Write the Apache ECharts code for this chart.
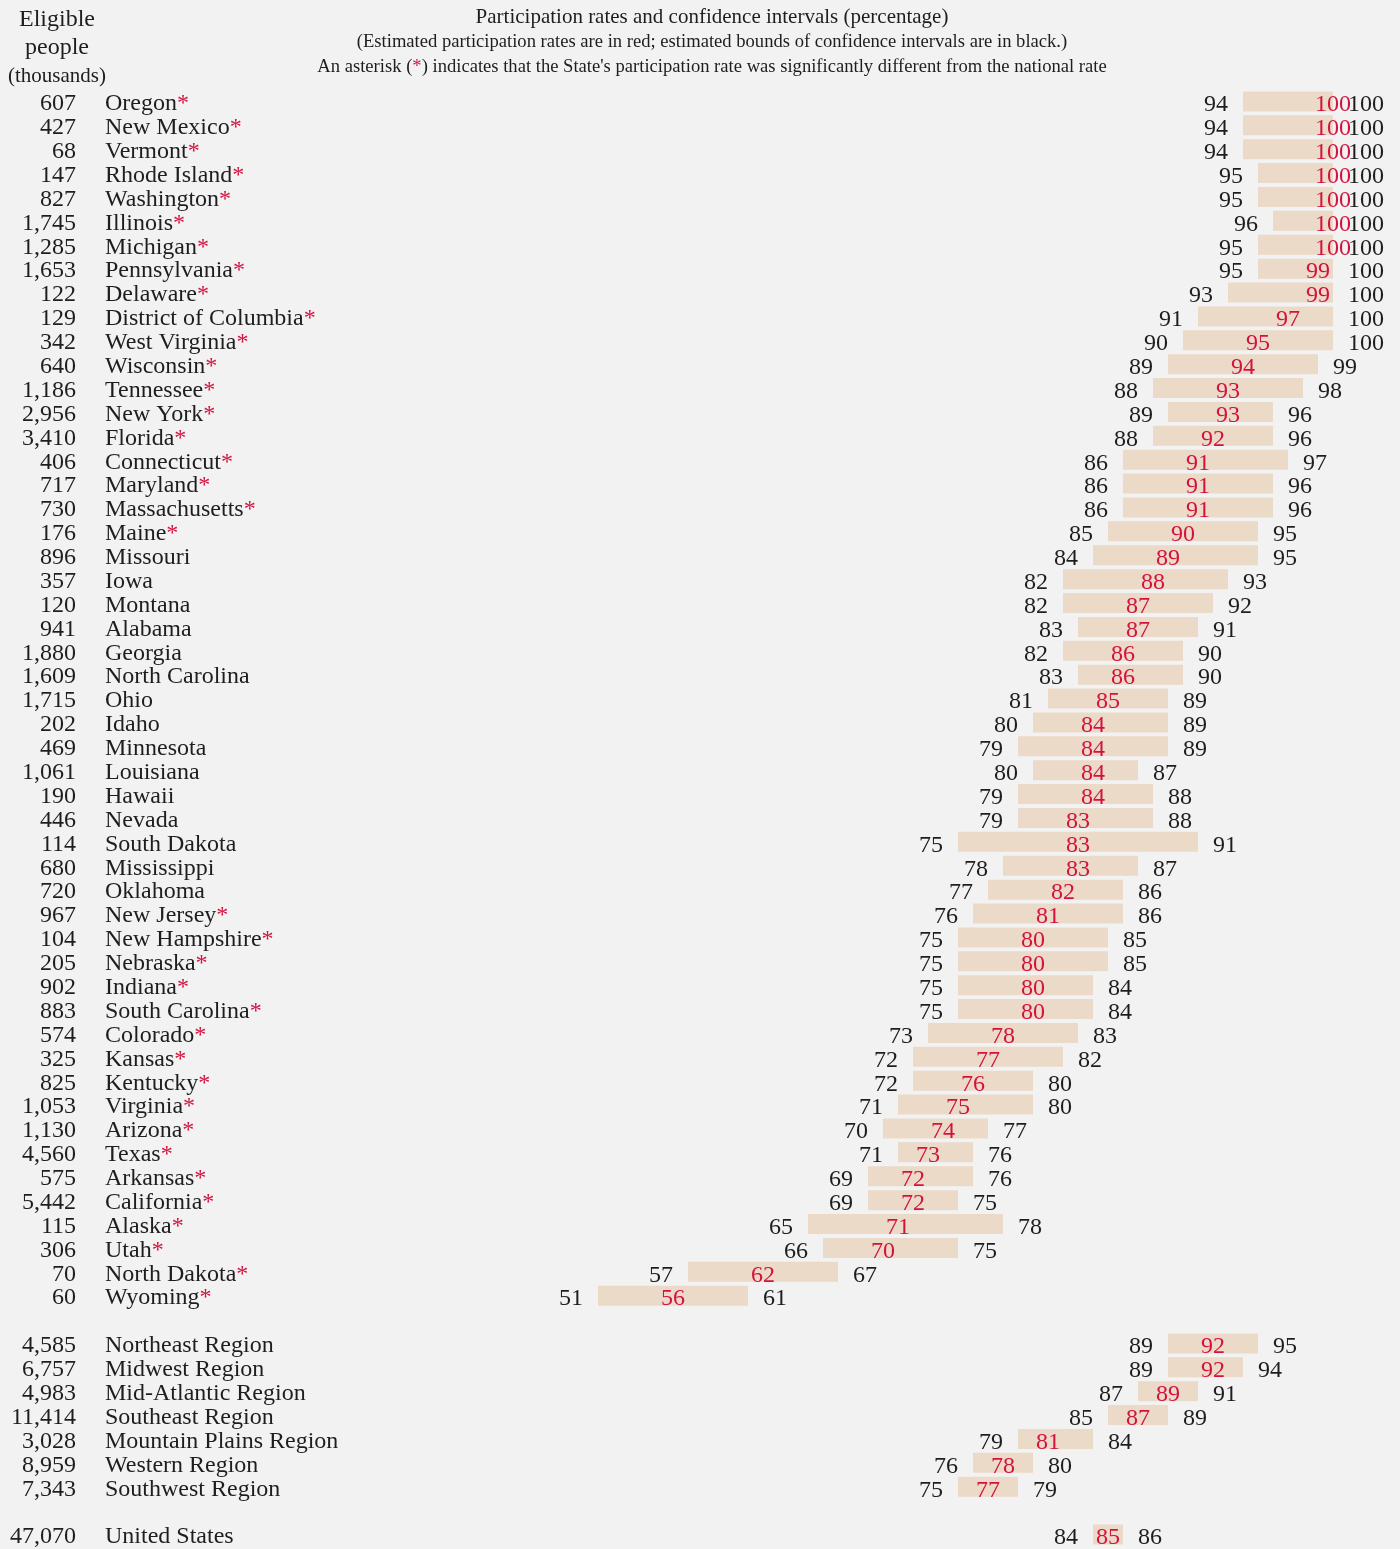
<!DOCTYPE html>
<html>
<head>
<meta charset="utf-8">
<script src="https://cdn.jsdelivr.net/npm/echarts@6/dist/echarts.min.js"></script>
<style>
html,body{margin:0;padding:0;background:#f2f2f2;}
#chart{width:1400px;height:1549px;}
</style>
</head>
<body>
<div id="chart"></div>
<script>
// ---- data ----
var names = ["Oregon","New Mexico","Vermont","Rhode Island","Washington","Illinois","Michigan","Pennsylvania","Delaware","District of Columbia","West Virginia","Wisconsin","Tennessee","New York","Florida","Connecticut","Maryland","Massachusetts","Maine","Missouri","Iowa","Montana","Alabama","Georgia","North Carolina","Ohio","Idaho","Minnesota","Louisiana","Hawaii","Nevada","South Dakota","Mississippi","Oklahoma","New Jersey","New Hampshire","Nebraska","Indiana","South Carolina","Colorado","Kansas","Kentucky","Virginia","Arizona","Texas","Arkansas","California","Alaska","Utah","North Dakota","Wyoming","",
"Northeast Region","Midwest Region","Mid-Atlantic Region","Southeast Region","Mountain Plains Region","Western Region","Southwest Region","",
"United States"];
var eligible = ["607","427","68","147","827","1,745","1,285","1,653","122","129","342","640","1,186","2,956","3,410","406","717","730","176","896","357","120","941","1,880","1,609","1,715","202","469","1,061","190","446","114","680","720","967","104","205","902","883","574","325","825","1,053","1,130","4,560","575","5,442","115","306","70","60","",
"4,585","6,757","4,983","11,414","3,028","8,959","7,343","",
"47,070"];
var significant = [1,1,1,1,1,1,1,1,1,1,1,1,1,1,1,1,1,1,1,0,0,0,0,0,0,0,0,0,0,0,0,0,0,0,1,1,1,1,1,1,1,1,1,1,1,1,1,1,1,1,1,0,
0,0,0,0,0,0,0,0,
0];
var lowBound = [94,94,94,95,95,96,95,95,93,91,90,89,88,89,88,86,86,86,85,84,82,82,83,82,83,81,80,79,80,79,79,75,78,77,76,75,75,75,75,73,72,72,71,70,71,69,69,65,66,57,51,null,
89,89,87,85,79,76,75,null,
84];
var estimate = [100,100,100,100,100,100,100,99,99,97,95,94,93,93,92,91,91,91,90,89,88,87,87,86,86,85,84,84,84,84,83,83,83,82,81,80,80,80,80,78,77,76,75,74,73,72,72,71,70,62,56,null,
92,92,89,87,81,78,77,null,
85];
var highBound = [100,100,100,100,100,100,100,100,100,100,100,99,98,96,96,97,96,96,95,95,93,92,91,90,90,89,89,89,87,88,88,91,87,86,86,85,85,84,84,83,82,80,80,77,76,76,75,78,75,67,61,null,
95,94,91,89,84,80,79,null,
86];

var RED = '#d3123f';
var BAR = '#ebdac7';
var INK = '#1e1e1e';
var FONT = '"Liberation Serif", "Times New Roman", serif';

var seriesData = [];
for (var i = 0; i < names.length; i++) {
  if (lowBound[i] != null) seriesData.push([i, lowBound[i], estimate[i], highBound[i]]);
}
var keys = names.map(function (n, i) { return 'k' + i; });
var richStyles = {
  n: { fontFamily: FONT, fontSize: 24, color: INK },
  s: { fontFamily: FONT, fontSize: 24, color: RED }
};

var chart = echarts.init(document.getElementById('chart'));
chart.setOption({
  backgroundColor: '#f2f2f2',
  animation: false,
  grid: { left: 582, right: 68, top: 90, bottom: 0, containLabel: false },
  xAxis: { type: 'value', min: 50, max: 100, show: false },
  yAxis: [
    {
      type: 'category', data: keys, inverse: true, position: 'left', offset: 498,
      axisLine: { show: false }, axisTick: { show: false },
      axisLabel: {
        interval: 0, margin: 8, align: 'right', padding: [4, 0, 0, 0],
        fontFamily: FONT, fontSize: 24, color: INK,
        formatter: function (v, i) { return eligible[i] ? '{n|' + eligible[i] + '}' : ''; },
        rich: richStyles
      }
    },
    {
      type: 'category', data: keys, inverse: true, position: 'left', offset: 469,
      axisLine: { show: false }, axisTick: { show: false },
      axisLabel: {
        interval: 0, margin: 8, align: 'left', padding: [4, 0, 0, 0],
        fontFamily: FONT, fontSize: 24, color: INK,
        formatter: function (v, i) {
          if (!names[i]) return '';
          return '{n|' + names[i] + '}' + (significant[i] ? '{s|*}' : '');
        },
        rich: richStyles
      }
    }
  ],
  series: [{
    type: 'custom',
    yAxisIndex: 0,
    clip: false,
    data: seriesData,
    encode: { x: [1, 2, 3], y: 0 },
    renderItem: function (params, api) {
      var idx = api.value(0);
      var pLow = api.coord([api.value(1), idx]);
      var pEst = api.coord([api.value(2), idx]);
      var pHigh = api.coord([api.value(3), idx]);
      var h = 20;
      var ty = pLow[1] + 3;
      return {
        type: 'group',
        children: [
          { type: 'rect', shape: { x: pLow[0] + 1, y: pLow[1] - h / 2 - 0.5, width: pHigh[0] - pLow[0], height: h }, style: { fill: BAR } },
          { type: 'text', style: { x: pLow[0] - 14, y: ty, text: String(api.value(1)), textAlign: 'right', textVerticalAlign: 'middle', font: '24px ' + FONT, fill: INK } },
          { type: 'text', style: { x: pHigh[0] + 16, y: ty, text: String(api.value(3)), textAlign: 'left', textVerticalAlign: 'middle', font: '24px ' + FONT, fill: INK } },
          { type: 'text', style: { x: pEst[0] + 1, y: ty, text: String(api.value(2)), textAlign: 'center', textVerticalAlign: 'middle', font: '24px ' + FONT, fill: RED } }
        ]
      };
    }
  }],
  graphic: [
    { type: 'text', x: 57, y: 20, style: { text: 'Eligible', textAlign: 'center', textVerticalAlign: 'middle', font: '24px ' + FONT, fill: INK } },
    { type: 'text', x: 57, y: 48, style: { text: 'people', textAlign: 'center', textVerticalAlign: 'middle', font: '24px ' + FONT, fill: INK } },
    { type: 'text', x: 57, y: 76, style: { text: '(thousands)', textAlign: 'center', textVerticalAlign: 'middle', font: '21px ' + FONT, fill: INK } },
    { type: 'text', x: 712, y: 17, style: { text: 'Participation rates and confidence intervals (percentage)', textAlign: 'center', textVerticalAlign: 'middle', font: '21px ' + FONT, fill: INK } },
    { type: 'text', x: 712, y: 42, style: { text: '(Estimated participation rates are in red; estimated bounds of confidence intervals are in black.)', textAlign: 'center', textVerticalAlign: 'middle', font: '18.6px ' + FONT, fill: INK } },
    { type: 'text', x: 712, y: 67, style: {
        text: "{t|An asterisk (}{s|*}{t|) indicates that the State's participation rate was significantly different from the national rate}",
        textAlign: 'center', textVerticalAlign: 'middle', font: '18.6px ' + FONT, fill: INK,
        rich: { t: { font: '18.6px ' + FONT, fill: INK }, s: { font: '18.6px ' + FONT, fill: RED } }
      } }
  ]
});
</script>
</body>
</html>
